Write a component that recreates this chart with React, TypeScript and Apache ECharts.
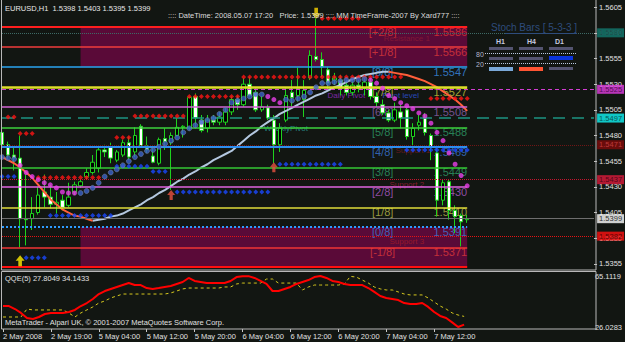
import React, { useEffect, useRef } from "react";
import * as echarts from "echarts";

const FONT = '"Liberation Sans", Arial, sans-serif';

// ---------------- data ----------------
const timeLabels = [
  "2 May 2008", "2 May 19:00", "5 May 04:00", "5 May 12:00", "5 May 20:00",
  "6 May 04:00", "6 May 12:00", "6 May 20:00", "7 May 04:00", "7 May 12:00",
];
const priceTicks = [1.5355, 1.538, 1.5405, 1.543, 1.5455, 1.548, 1.5505, 1.553, 1.5555, 1.558, 1.5605];

const opens = [
  1.5483, 1.5471, 1.5461, 1.5458, 1.5399, 1.5399, 1.5405, 1.5425, 1.5420, 1.5413,
  1.5417, 1.5412, 1.5425, 1.5431, 1.5440, 1.5444, 1.5448, 1.5466, 1.5469, 1.5456,
  1.5461, 1.5473, 1.5464, 1.5489, 1.5470, 1.5460, 1.5453, 1.5477, 1.5473, 1.5480,
  1.5488, 1.5487, 1.5518, 1.5495, 1.5487, 1.5495, 1.5493, 1.5493, 1.5503, 1.5515,
  1.5510, 1.5530, 1.5522, 1.5505, 1.5507, 1.5495, 1.5471, 1.5495, 1.5522, 1.5519,
  1.5515, 1.5536, 1.5557, 1.5554, 1.5544, 1.5534, 1.5534, 1.5529, 1.5522, 1.5529,
  1.5526, 1.5532, 1.5518, 1.5510, 1.5502, 1.5495, 1.5503, 1.5505, 1.5479, 1.5490,
  1.5497, 1.5480, 1.5463, 1.5417, 1.5435, 1.5407, 1.5402, 1.5398,
];
const highs = [
  1.5495, 1.5474, 1.5468, 1.5480, 1.5442, 1.5420, 1.5430, 1.5442, 1.5432, 1.5425,
  1.5422, 1.5434, 1.5435, 1.5437, 1.5448, 1.5461, 1.5468, 1.5471, 1.5473, 1.5466,
  1.5476, 1.5479, 1.5488, 1.5491, 1.5479, 1.5469, 1.5478, 1.5487, 1.5483, 1.5497,
  1.5490, 1.5518, 1.5521, 1.5500, 1.5500, 1.5500, 1.5503, 1.5507, 1.5518, 1.5519,
  1.5536, 1.5537, 1.5526, 1.5518, 1.5510, 1.5500, 1.5492, 1.5526, 1.5534, 1.5546,
  1.5534, 1.5563, 1.5594, 1.5561, 1.5547, 1.5541, 1.5539, 1.5534, 1.5536, 1.5534,
  1.5536, 1.5536, 1.5522, 1.5515, 1.5505, 1.5512, 1.5510, 1.5507, 1.5492, 1.5500,
  1.5502, 1.5482, 1.5466, 1.5437, 1.5437, 1.5412, 1.5404, 1.5403,
];
const lows = [
  1.5466, 1.5456, 1.5446, 1.5371, 1.5373, 1.5388, 1.5403, 1.5410, 1.5409, 1.5404,
  1.5407, 1.5410, 1.5422, 1.5429, 1.5437, 1.5442, 1.5444, 1.5459, 1.5453, 1.5454,
  1.5459, 1.5456, 1.5459, 1.5468, 1.5463, 1.5453, 1.5451, 1.5466, 1.5427, 1.5479,
  1.5478, 1.5485, 1.5487, 1.5483, 1.5483, 1.5490, 1.5490, 1.5490, 1.5500, 1.5505,
  1.5508, 1.5518, 1.5503, 1.5503, 1.5495, 1.5453, 1.5464, 1.5493, 1.5508, 1.5513,
  1.5498, 1.5534, 1.5552, 1.5537, 1.5524, 1.5529, 1.5519, 1.5519, 1.5519, 1.5522,
  1.5519, 1.5515, 1.5508, 1.5500, 1.5493, 1.5493, 1.5487, 1.5476, 1.5469, 1.5485,
  1.5480, 1.5456, 1.5401, 1.5412, 1.5398, 1.5385, 1.5372, 1.5395,
];
const closes = [
  1.5471, 1.5461, 1.5458, 1.5399, 1.5398, 1.5404, 1.5422, 1.5420, 1.5413, 1.5415,
  1.5410, 1.5420, 1.5432, 1.5435, 1.5444, 1.5454, 1.5466, 1.5464, 1.5458, 1.5464,
  1.5473, 1.5459, 1.5480, 1.5470, 1.5466, 1.5454, 1.5476, 1.5474, 1.5480, 1.5488,
  1.5489, 1.5517, 1.5497, 1.5485, 1.5495, 1.5493, 1.5498, 1.5503, 1.5515, 1.5510,
  1.5530, 1.5519, 1.5505, 1.5508, 1.5497, 1.5471, 1.5487, 1.5519, 1.5517, 1.5526,
  1.5524, 1.5558, 1.5554, 1.5547, 1.5531, 1.5536, 1.5526, 1.5522, 1.5529, 1.5526,
  1.5532, 1.5518, 1.5512, 1.5502, 1.5495, 1.5505, 1.5497, 1.5479, 1.5487, 1.5493,
  1.5483, 1.5469, 1.5417, 1.5434, 1.5407, 1.5401, 1.5396, 1.5399,
];

const maLine = [
  1.5459, 1.5456, 1.5453, 1.5449, 1.5444, 1.5439, 1.5432, 1.5425, 1.5418, 1.5413,
  1.5408, 1.5405, 1.5402, 1.5401, 1.5399, 1.5397, 1.5398, 1.5399, 1.5401, 1.5402,
  1.5404, 1.5407, 1.5410, 1.5413, 1.5417, 1.5420, 1.5424, 1.5427, 1.5431, 1.5435,
  1.5438, 1.5442, 1.5445, 1.5449, 1.5452, 1.5456, 1.5459, 1.5462, 1.5465, 1.5470,
  1.5475, 1.5480, 1.5484, 1.5489, 1.5493, 1.5497, 1.5501, 1.5504, 1.5507, 1.5510,
  1.5513, 1.5516, 1.5519, 1.5521, 1.5524, 1.5527, 1.5529, 1.5532, 1.5535, 1.5537,
  1.5539, 1.5540, 1.5541, 1.5542, 1.5542, 1.5541, 1.5540, 1.5539, 1.5537, 1.5535,
  1.5533, 1.5530, 1.5527, 1.5523, 1.5519, 1.5515, 1.5510, 1.5504,
];

// trailing dots: [first bar, values...]
const sarBelowSegs: [number, number[]][] = [
  [0, [1.5459, 1.5458, 1.5457]],
  [13, [1.5424, 1.5426, 1.5429, 1.5434, 1.544, 1.5444, 1.5447, 1.5451, 1.5455, 1.5459, 1.5462, 1.5465, 1.5466,
    1.5469, 1.5472, 1.5475, 1.5478, 1.5483, 1.5487, 1.549, 1.5493, 1.5495, 1.5497, 1.5501, 1.5505, 1.5512,
    1.5514, 1.5516, 1.5518, 1.552, 1.552]],
  [47, [1.5515, 1.5514, 1.5516, 1.5518, 1.5522, 1.5527, 1.5531, 1.5531, 1.5532, 1.5533, 1.5534, 1.5534, 1.5534, 1.5535]],
];
const sarAboveSegs: [number, number[]][] = [
  [3, [1.5451, 1.5444, 1.544, 1.5437, 1.5434, 1.5432, 1.5429, 1.5425, 1.5424, 1.5424]],
  [44, [1.5518, 1.5515, 1.5512]],
  [61, [1.5534, 1.5531, 1.5526, 1.5519, 1.5516, 1.5512, 1.5509, 1.5506, 1.5502, 1.5499, 1.5492, 1.5483, 1.5475,
    1.5463, 1.5452, 1.5441, 1.5431]],
];
// [first bar, last bar, price]
const resistanceRows: [number, number, number][] = [
  [1, 2, 1.5498], [3, 5, 1.5482], [6, 16, 1.5439], [19, 21, 1.5478], [22, 30, 1.5499],
  [31, 39, 1.5518], [40, 66, 1.5537], [53, 59, 1.5594], [71, 77, 1.5516],
];
const supportRows: [number, number, number][] = [
  [0, 2, 1.544], [4, 7, 1.5361], [8, 18, 1.5402], [19, 24, 1.545], [25, 27, 1.5445],
  [29, 44, 1.5425], [46, 56, 1.5452], [67, 77, 1.5466],
];
const buyArrows = [[3, 1.5358]];
const signalArrows = [[28, 1.5422], [45, 1.5449]];
const sellArrows = [[52, 1.5599]];

const qqeFast = [
  42.1, 42.1, 39.8, 36.8, 32.9, 32.2, 33.7, 36.0, 36.8, 36.8,
  36.8, 37.5, 39.1, 42.1, 44.4, 47.5, 51.3, 53.6, 55.2, 56.7,
  58.2, 59.7, 58.2, 58.2, 55.9, 55.2, 55.9, 56.7, 57.5, 59.0,
  60.5, 63.6, 61.3, 60.5, 59.7, 59.7, 59.7, 59.7, 61.3, 64.3,
  65.0, 65.0, 63.6, 61.3, 59.0, 53.6, 53.6, 55.2, 56.7, 59.0,
  60.5, 62.0, 64.3, 65.1119, 63.6, 61.3, 60.5, 59.0, 58.2, 58.2,
  58.2, 55.9, 52.9, 49.8, 48.3, 47.5, 46.7, 44.4, 43.7, 43.7,
  44.4, 41.4, 37.5, 34.5, 32.9, 29.6, 26.0283, 27.8049,
];
const qqeSlow = [
  33.7, 33.7, 33.7, 33.7, 39.8, 39.1, 39.1, 39.1, 39.1, 39.1,
  39.1, 36.8, 33.7, 36.8, 39.1, 41.4, 44.4, 46.0, 48.3, 49.8,
  51.3, 51.3, 51.3, 51.3, 51.3, 51.3, 51.3, 51.3, 52.1, 53.6,
  55.2, 55.9, 55.9, 55.9, 55.9, 55.9, 55.9, 56.7, 56.7, 59.0,
  59.7, 59.7, 59.7, 59.7, 62.8, 62.8, 59.7, 59.7, 59.7, 59.7,
  54.4, 56.7, 58.2, 58.2, 58.2, 58.2, 58.2, 59.0, 64.8, 64.3,
  62.0, 59.7, 56.7, 55.2, 54.4, 54.4, 52.9, 51.3, 50.6, 50.6,
  50.6, 48.3, 45.2, 42.1, 39.8, 36.8, 35.2, 34.1433,
];
const qqeRange = [26.0283, 65.1119];

const mmLevels = [1.5586, 1.5566, 1.5547, 1.5527, 1.5508, 1.5488, 1.5469, 1.5449, 1.543, 1.541, 1.5391, 1.5371, 1.5352];
const mmNames = ["[+2/8]", "[+1/8]", "[8/8]", "[7/8]", "[6/8]", "[5/8]", "[4/8]", "[3/8]", "[2/8]", "[1/8]", "[0/8]", "[-1/8]", ""];

const pivotLevels = [1.558, 1.5525, 1.5497, 1.5471, 1.5399, 1.5437, 1.5382];
const pivotTexts = [
  { text: "Resistance 1", level: 0, bar: 67 },
  { text: "Daily Pivot", level: 1, bar: 57 },
  { text: "Pivot level", level: 1, bar: 66 },
  { text: "WeeklyPivot", level: 2, bar: 47 },
  { text: "Support 1", level: 3, bar: 68 },
  { text: "Support 2", level: 5, bar: 67 },
  { text: "Support 3", level: 6, bar: 67 },
];

// ---------------- layout / styles ----------------
const SLOT_COUNT = 99;
const LABEL_STEP = 8;
const MM_FIRST_BAR = 0;
const MM_LAST_BAR = 77;
const ZONE_FIRST_BAR = 13;
const MM_NAME_BAR = 63;

const mmStyles = [
  { line: "#ff1e1e", w: 2, type: "solid", label: "#e23232" },
  { line: "#f03c3c", w: 1.5, type: "solid", label: "#e03a3a" },
  { line: "#2aa4f0", w: 1.5, type: "solid", label: "#3a8ee8" },
  { line: "#dede28", w: 2.5, type: "solid", label: "#c8c83a" },
  { line: "#d463d4", w: 1.5, type: "solid", label: "#8e62b0" },
  { line: "#3cd23c", w: 1.5, type: "solid", label: "#2e9e6a" },
  { line: "#2d8ef0", w: 2, type: "solid", label: "#3a78d8" },
  { line: "#34c834", w: 1.5, type: "solid", label: "#2e9e6a" },
  { line: "#e064e0", w: 1.5, type: "solid", label: "#b05cc8" },
  { line: "#e0dc3a", w: 1.5, type: "solid", label: "#bcbc4a" },
  { line: "#2e9cff", w: 2, type: "dotted", label: "#3a78d8" },
  { line: "#f03434", w: 1.5, type: "solid", label: "#e03a3a" },
  { line: "#ff1010", w: 2, type: "solid", label: "#e03a3a" },
];
const pivotStyles = [
  { line: "#3d6a66", type: "dotted", w: 1, tagBg: "#137a70", tagText: "#06302c", text: "#8a1c34", dy: 6 },
  { line: "#d23cd2", type: [4, 3], w: 1, tagBg: "#e23ee2", tagText: "#3a003a", text: "#9a2ccc", dy: 6 },
  { line: "#1c9482", type: [12, 7], w: 1.5, tagBg: "#10f4f4", tagText: "#003838", text: "#2a9c9c", dy: 10 },
  { line: "#701616", type: "dotted", w: 1, tagBg: "#820a0a", tagText: "#d04848", text: "#7a1a22", dy: 6 },
  { line: "#6e6e6e", type: "solid", w: 1, tagBg: "#ffffff", tagText: "#000000", text: "#ffffff", dy: 6 },
  { line: "#c8142e", type: "dotted", w: 1, tagBg: "#dc1a3c", tagText: "#3a0010", text: "#a01c36", dy: 5 },
  { line: "#e41414", type: "dotted", w: 1, tagBg: "#ff1010", tagText: "#3a0000", text: "#a81c24", dy: 5 },
];
const pivotTextColors: Record<string, string> = { "Pivot level": "#2f56e0" };

const BG = "#121612";
const ARROW = "path://M5,0L10,5L7,5L7,10L3,10L3,5L0,5Z";

function rowPoints(rows: [number, number, number][]) {
  const out: number[][] = [];
  rows.forEach(([a, b, p]) => {
    for (let i = a; i <= b; i++) out.push([i, p]);
  });
  return out;
}
function segPoints(segs: [number, number[]][]) {
  const out: number[][] = [];
  segs.forEach(([start, vals]) => vals.forEach((v, k) => out.push([start + k, v])));
  return out;
}

function txt(text: string, x: number, y: number, fill: string, size = 7.5, extra: any = {}) {
  return {
    type: "text", x, y, silent: true, z: 100,
    style: { text, fill, font: `${extra.weight || "normal"} ${size}px ${FONT}`, verticalAlign: "middle", align: extra.align || "left" },
  };
}
function rect(x: number, y: number, w: number, h: number, fill: string) {
  return { type: "rect", silent: true, z: 100, shape: { x, y, width: w, height: h }, style: { fill } };
}
function hline(x1: number, x2: number, y: number, stroke: string, dash?: number[]) {
  return { type: "line", silent: true, z: 100, shape: { x1, y1: y, x2, y2: y }, style: { stroke, lineWidth: 1, lineDash: dash } };
}

function buildOption() {
  const cats = Array.from({ length: SLOT_COUNT }, (_, i) => String(i));
  const candleData = opens.map((o, i) => [o, closes[i], lows[i], highs[i]]);
  const n = maLine.length;
  const maUp = maLine.map((v, i) => {
    const before = i > 0 && maLine[i] >= maLine[i - 1];
    const after = i < n - 1 && maLine[i + 1] >= maLine[i];
    return before || after ? v : null;
  });
  const maDown = maLine.map((v, i) => {
    const before = i > 0 && maLine[i] < maLine[i - 1];
    const after = i < n - 1 && maLine[i + 1] < maLine[i];
    return before || after ? v : null;
  });
  const last = opens.length - 1;
  const lastSlot = SLOT_COUNT - 1;
  const tickShow = (i: number) => i % LABEL_STEP === 0 && i / LABEL_STEP < timeLabels.length;

  const mmLabelData: any[] = [];
  const mmPriceData: any[] = [];
  mmLevels.forEach((v, i) => {
    if (!mmNames[i]) return;
    mmLabelData.push({ value: [MM_NAME_BAR, v], label: { formatter: mmNames[i], color: mmStyles[i].label } });
    mmPriceData.push({ value: [MM_LAST_BAR, v], label: { formatter: v.toFixed(4), color: mmStyles[i].label } });
  });
  const pivotTextData = pivotTexts.map((t) => ({
    value: [t.bar, pivotLevels[t.level]],
    label: {
      formatter: t.text,
      color: pivotTextColors[t.text] || pivotStyles[t.level].text,
      offset: [0, pivotStyles[t.level].dy],
    },
  }));
  const tagData = pivotLevels.map((v, i) => ({
    value: [lastSlot, v],
    label: {
      formatter: v.toFixed(4),
      backgroundColor: pivotStyles[i].tagBg,
      color: pivotStyles[i].tagText,
    },
  }));

  const graphic: any[] = [
    { type: "rect", silent: true, z: 99, shape: { x: 1.5, y: -0.5, width: 594.5, height: 270.5 }, style: { fill: "none", stroke: "#b8b8b8", lineWidth: 1 } },
    { type: "rect", silent: true, z: 99, shape: { x: 1.5, y: 271.5, width: 594.5, height: 57.5 }, style: { fill: "none", stroke: "#b8b8b8", lineWidth: 1 } },
    txt(`EURUSD,H1  ${opens[last].toFixed(4)} ${highs[last].toFixed(4)} ${lows[last].toFixed(4)} ${closes[last].toFixed(4)}`, 5, 8, "#e8e8e8"),
    txt(`:::: DateTime: 2008.05.07 17:20   Price: ${closes[last].toFixed(4)} :::: MM TimeFrame-2007 By Xard777 ::::`, 168, 15, "#dcdcdc"),
    txt("Stoch Bars [ 5-3-3 ]", 491, 27, "#2e4c7c", 10),
    hline(505, 577, 33.5, "#2e4c7c"),
    txt("H1", 496, 41, "#c8cce0", 7, { weight: "bold" }),
    txt("H4", 527, 41, "#c8cce0", 7, { weight: "bold" }),
    txt("D1", 555, 41, "#c8cce0", 7, { weight: "bold" }),
    txt("80", 476, 54, "#b4b8cc", 7),
    txt("20", 476, 64, "#b4b8cc", 7),
    rect(489, 47, 24, 3, "#545470"),
    rect(519, 47, 24, 3, "#545470"),
    rect(549, 47, 24, 3, "#545470"),
    hline(485, 576, 53.5, "#b8c8e0", [1, 1]),
    rect(489, 57, 24, 3, "#545470"),
    rect(519, 57, 24, 3, "#545470"),
    rect(549, 56, 24, 4, "#0a34dc"),
    hline(485, 576, 63.5, "#b8c8e0", [1, 1]),
    rect(489, 67, 24, 4, "#7aa8d8"),
    rect(519, 67, 24, 4, "#ff5533"),
    rect(549, 67, 24, 3, "#545470"),
    txt(`QQE(5) ${qqeFast[last].toFixed(4)} ${qqeSlow[last].toFixed(4)}`, 5, 278, "#e0e0e0"),
    txt("MetaTrader - Alpari UK, © 2001-2007 MetaQuotes Software Corp.", 5, 322, "#e0e0e0"),
  ];

  const scatterBase = { type: "scatter", xAxisIndex: 0, yAxisIndex: 0 };

  return {
    animation: false,
    backgroundColor: BG,
    textStyle: { fontFamily: FONT },
    graphic,
    grid: [
      { left: 2, right: 29.5, top: 1, height: 268 },
      { left: 2, right: 29.5, top: 276, height: 51 },
    ],
    xAxis: [
      { type: "category", gridIndex: 0, data: cats, boundaryGap: false, show: false },
      {
        type: "category", gridIndex: 1, data: cats, boundaryGap: false, offset: 2,
        axisLine: { show: false },
        axisTick: { show: true, interval: (i: number) => tickShow(i), length: 3, lineStyle: { color: "#c8c8c8" } },
        axisLabel: {
          interval: (i: number) => tickShow(i),
          formatter: (_v: string, i: number) => (tickShow(i) ? timeLabels[i / LABEL_STEP] : ""),
          color: "#e0e0e0", fontSize: 7.5, fontFamily: FONT, align: "left", margin: 3,
        },
        splitLine: { show: false },
      },
    ],
    yAxis: [
      {
        type: "value", gridIndex: 0, position: "right", min: 1.535, max: 1.5611,
        axisLine: { show: false },
        axisTick: { show: true, customValues: priceTicks, length: 3, lineStyle: { color: "#c8c8c8" } },
        axisLabel: { customValues: priceTicks, formatter: (v: number) => v.toFixed(4), color: "#e0e0e0", fontSize: 7.5, fontFamily: FONT, margin: 5 },
        splitLine: { show: false },
      },
      {
        type: "value", gridIndex: 1, position: "right", min: qqeRange[0], max: qqeRange[1],
        axisLine: { show: false },
        axisTick: { show: false },
        axisLabel: { customValues: qqeRange, formatter: (v: number) => v.toFixed(4), color: "#e0e0e0", fontSize: 7.5, fontFamily: FONT, margin: 5 },
        splitLine: { show: false },
      },
    ],
    series: [
      {
        name: "zones", type: "line", xAxisIndex: 0, yAxisIndex: 0, data: [], z: 0, silent: true,
        markArea: {
          silent: true,
          itemStyle: { color: "#5a0a38", opacity: 1 },
          data: [
            [{ coord: [ZONE_FIRST_BAR, mmLevels[0]] }, { coord: [MM_LAST_BAR, mmLevels[2]] }],
            [{ coord: [ZONE_FIRST_BAR, mmLevels[10]] }, { coord: [MM_LAST_BAR, mmLevels[12]] }],
          ],
        },
      },
      {
        name: "levels", type: "line", xAxisIndex: 0, yAxisIndex: 0, data: [], z: 1, silent: true,
        markLine: {
          silent: true, symbol: ["none", "none"], animation: false, label: { show: false },
          data: [
            ...mmLevels.map((v, i) => [
              { coord: [MM_FIRST_BAR, v], lineStyle: { color: mmStyles[i].line, width: mmStyles[i].w, type: mmStyles[i].type } },
              { coord: [MM_LAST_BAR, v] },
            ]),
            ...pivotLevels.map((v, i) => [
              { coord: [0, v], lineStyle: { color: pivotStyles[i].line, width: pivotStyles[i].w, type: pivotStyles[i].type } },
              { coord: [lastSlot, v] },
            ]),
          ],
        },
      },
      {
        name: "EURUSD", type: "candlestick", xAxisIndex: 0, yAxisIndex: 0, data: candleData, z: 3, barWidth: 4,
        itemStyle: { color: "#000000", color0: "#ffffff", borderColor: "#1ed21e", borderColor0: "#1ed21e", borderWidth: 1 },
      },
      {
        name: "MA up", type: "line", xAxisIndex: 0, yAxisIndex: 0, data: maUp, z: 4, symbol: "none", connectNulls: false,
        lineStyle: { color: "#b4c8e0", width: 2 },
      },
      {
        name: "MA down", type: "line", xAxisIndex: 0, yAxisIndex: 0, data: maDown, z: 4, symbol: "none", connectNulls: false,
        lineStyle: { color: "#ff5f3a", width: 2 },
      },
      { ...scatterBase, name: "resistance", data: rowPoints(resistanceRows), z: 5, symbol: "diamond", symbolSize: 5, itemStyle: { color: "#ff1414" } },
      { ...scatterBase, name: "support", data: rowPoints(supportRows), z: 5, symbol: "diamond", symbolSize: 5, itemStyle: { color: "#1a48ff" } },
      { ...scatterBase, name: "trail below", data: segPoints(sarBelowSegs), z: 5, symbol: "circle", symbolSize: 5, itemStyle: { color: "#3a62c8", borderColor: "#8090b0", borderWidth: 0.6 } },
      { ...scatterBase, name: "trail above", data: segPoints(sarAboveSegs), z: 5, symbol: "circle", symbolSize: 5, itemStyle: { color: "#e83ee8" } },
      { ...scatterBase, name: "buy", data: buyArrows, z: 6, symbol: ARROW, symbolSize: [9, 11], itemStyle: { color: "#ffee00" } },
      { ...scatterBase, name: "signal", data: signalArrows, z: 6, symbol: ARROW, symbolSize: [8, 10], itemStyle: { color: "#e85040" } },
      { ...scatterBase, name: "sell", data: sellArrows, z: 6, symbol: ARROW, symbolRotate: 180, symbolSize: [9, 11], itemStyle: { color: "#ffd800" } },
      {
        ...scatterBase, name: "mm names", data: mmLabelData, z: 2, silent: true,
        symbolSize: 0.1, itemStyle: { color: "transparent" },
        label: { show: true, position: "inside", offset: [0, 5], fontSize: 11, fontFamily: FONT },
      },
      {
        ...scatterBase, name: "mm prices", data: mmPriceData, z: 2, silent: true,
        symbolSize: 0.1, itemStyle: { color: "transparent" },
        label: { show: true, position: "left", distance: 0, offset: [0, 5], fontSize: 11, fontFamily: FONT },
      },
      {
        ...scatterBase, name: "pivot names", data: pivotTextData, z: 2, silent: true,
        symbolSize: 0.1, itemStyle: { color: "transparent" },
        label: { show: true, position: "inside", fontSize: 8, fontFamily: FONT },
      },
      {
        ...scatterBase, name: "price tags", data: tagData, z: 20, silent: true, clip: false,
        symbolSize: 0.1, itemStyle: { color: "transparent" },
        label: { show: true, position: "right", distance: 3, fontSize: 7.5, fontFamily: FONT, padding: [1, 2, 0, 2] },
      },
      {
        name: "QQE", type: "line", xAxisIndex: 1, yAxisIndex: 1, data: qqeFast, symbol: "none", z: 4,
        lineStyle: { color: "#ff0000", width: 2 },
      },
      {
        name: "QQE slow", type: "line", xAxisIndex: 1, yAxisIndex: 1, data: qqeSlow, symbol: "none", z: 3,
        lineStyle: { color: "#d6c81e", width: 1, type: [3, 3] },
      },
    ],
  };
}

export default function App() {
  const ref = useRef<HTMLDivElement>(null);
  useEffect(() => {
    if (!ref.current) return;
    const chart = echarts.init(ref.current, null, { renderer: "svg" });
    chart.setOption(buildOption() as any);
    return () => chart.dispose();
  }, []);
  return <div ref={ref} style={{ position: "fixed", left: 0, top: 0, width: 625, height: 342 }} />;
}
